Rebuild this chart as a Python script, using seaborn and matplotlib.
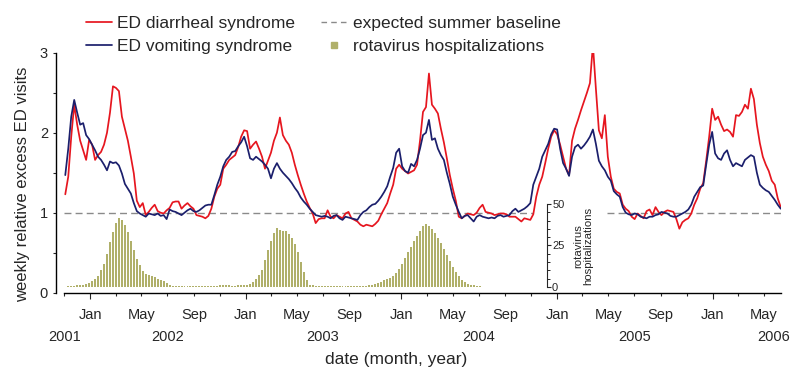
import matplotlib
matplotlib.use('Agg')
import matplotlib.pyplot as plt
import matplotlib.dates as mdates
from matplotlib.lines import Line2D
from matplotlib.ticker import FixedLocator, FuncFormatter
import seaborn as sns
import pandas as pd

# weekly series, first week ending 2001-11-03
start_week = '2001-11-03'

# ED diarrheal syndrome, relative excess visits
diarrheal = [
    1.23, 1.45, 1.95, 2.35, 2.10, 1.90, 1.78, 1.66, 1.91, 1.85,
    1.66, 1.72, 1.76, 1.85, 2.00, 2.25, 2.58, 2.56, 2.52, 2.20,
    2.05, 1.90, 1.70, 1.49, 1.15, 1.07, 1.12, 0.97, 1.01, 1.06,
    1.10, 1.02, 1.00, 0.99, 1.03, 1.06, 1.13, 1.14, 1.14, 1.05,
    1.09, 1.12, 1.08, 1.05, 0.97, 0.96, 0.95, 0.93, 0.96, 1.05,
    1.20, 1.30, 1.35, 1.55, 1.60, 1.66, 1.69, 1.72, 1.82, 1.95,
    2.03, 2.02, 1.80, 1.85, 1.89, 1.80, 1.70, 1.55, 1.65, 1.75,
    1.90, 2.00, 2.19, 1.97, 1.90, 1.85, 1.75, 1.60, 1.47, 1.35,
    1.24, 1.14, 1.06, 0.99, 0.87, 0.92, 0.93, 0.93, 1.03, 0.95,
    0.93, 0.97, 0.95, 0.93, 0.99, 1.01, 0.93, 0.91, 0.89, 0.85,
    0.83, 0.85, 0.84, 0.83, 0.86, 0.90, 0.98, 1.05, 1.12, 1.24,
    1.35, 1.55, 1.60, 1.55, 1.52, 1.49, 1.51, 1.53, 1.60, 1.90,
    2.26, 2.32, 2.74, 2.35, 2.30, 2.24, 2.05, 1.88, 1.68, 1.47,
    1.30, 1.15, 0.95, 0.93, 0.96, 0.99, 0.98, 0.97, 1.00, 1.06,
    1.10, 1.01, 1.00, 0.99, 0.97, 0.98, 0.99, 0.99, 0.98, 0.95,
    0.95, 0.95, 0.92, 0.89, 0.93, 0.92, 0.91, 0.98, 1.20, 1.35,
    1.45, 1.62, 1.80, 1.95, 2.03, 1.98, 1.85, 1.70, 1.55, 1.47,
    1.90, 2.05, 2.16, 2.28, 2.39, 2.50, 2.62, 3.10, 2.55, 2.03,
    1.93, 2.22, 1.70, 1.45, 1.30, 1.26, 1.24, 1.10, 1.05, 1.02,
    0.95, 0.92, 0.99, 0.96, 0.93, 1.02, 1.04, 0.97, 1.07, 1.01,
    0.97, 1.01, 1.03, 1.02, 1.01, 0.92, 0.80, 0.88, 0.91, 0.93,
    0.99, 1.10, 1.18, 1.30, 1.37, 1.65, 1.95, 2.30, 2.16, 2.20,
    2.10, 2.02, 2.04, 2.01, 1.95, 2.22, 2.21, 2.26, 2.35, 2.30,
    2.55, 2.42, 2.10, 1.87, 1.70, 1.60, 1.52, 1.40, 1.35, 1.18,
    1.07,
]

# ED vomiting syndrome, relative excess visits
vomiting = [
    1.47, 1.80, 2.20, 2.41, 2.25, 2.10, 2.12, 1.97, 1.92, 1.85,
    1.78, 1.70, 1.66, 1.60, 1.53, 1.64, 1.62, 1.63, 1.59, 1.49,
    1.36, 1.30, 1.24, 1.12, 1.02, 0.99, 0.97, 0.95, 0.99, 0.98,
    0.97, 0.99, 0.96, 0.97, 0.92, 1.04, 1.02, 1.01, 0.99, 0.97,
    1.00, 1.03, 1.05, 1.02, 1.01, 1.03, 1.06, 1.09, 1.10, 1.10,
    1.22, 1.35, 1.45, 1.58, 1.66, 1.70, 1.76, 1.77, 1.83, 1.88,
    1.95, 1.83, 1.68, 1.66, 1.70, 1.67, 1.64, 1.60, 1.55, 1.43,
    1.55, 1.62, 1.55, 1.50, 1.46, 1.42, 1.37, 1.31, 1.26, 1.19,
    1.14, 1.10, 1.05, 1.01, 0.97, 0.96, 0.95, 0.96, 0.95, 0.93,
    0.96, 0.97, 0.93, 0.91, 0.95, 0.94, 0.93, 0.92, 0.91, 0.97,
    1.01, 1.03, 1.07, 1.10, 1.11, 1.15, 1.20, 1.26, 1.33, 1.45,
    1.56, 1.75, 1.80, 1.58, 1.52, 1.50, 1.61, 1.58, 1.66, 1.80,
    1.97, 2.00, 2.16, 1.91, 1.93, 1.80, 1.72, 1.66, 1.50, 1.36,
    1.20, 1.10, 1.01, 0.93, 0.96, 0.97, 0.93, 0.89, 0.95, 0.97,
    0.95, 0.94, 0.93, 0.94, 0.93, 0.96, 0.97, 0.95, 0.96, 0.97,
    1.02, 1.05, 1.01, 1.03, 1.05, 1.08, 1.12, 1.35, 1.45, 1.55,
    1.70, 1.78, 1.86, 1.98, 2.05, 2.04, 1.80, 1.62, 1.55, 1.46,
    1.70, 1.82, 1.85, 1.80, 1.84, 1.89, 1.95, 2.04, 1.86, 1.65,
    1.58, 1.53, 1.45, 1.40, 1.27, 1.23, 1.20, 1.07, 1.00, 0.98,
    0.97, 0.99, 0.98, 0.95, 0.94, 0.93, 0.95, 0.95, 0.97, 0.98,
    1.01, 1.00, 0.99, 0.96, 0.95, 0.95, 0.97, 0.99, 1.01, 1.04,
    1.10, 1.20, 1.26, 1.32, 1.34, 1.60, 1.85, 2.01, 1.74, 1.68,
    1.66, 1.74, 1.78, 1.66, 1.58, 1.62, 1.60, 1.58, 1.66, 1.69,
    1.72, 1.70, 1.50, 1.35, 1.31, 1.28, 1.26, 1.21, 1.16, 1.10,
    1.05,
]

# weekly rotavirus hospitalizations (first three seasons only)
rotavirus = [
    0.0, 0.8, 0.8, 0.9, 1.0, 1.2, 1.5, 2.0, 2.5, 3.5,
    5.0, 6.5, 10.0, 14.0, 20.0, 27.0, 33.0, 38.5, 41.5, 40.5,
    37.5, 33.0, 28.0, 22.0, 17.0, 13.0, 9.5, 8.0, 7.2, 6.8,
    6.0, 5.0, 4.2, 3.5, 2.5, 1.5, 0.8, 0.6, 0.5, 0.5,
    0.4, 0.4, 0.4, 0.4, 0.4, 0.8, 0.8, 0.8, 0.8, 0.9,
    0.9, 0.9, 1.0, 1.0, 1.0, 1.0, 0.8, 0.9, 1.0, 1.0,
    1.2, 1.5, 2.0, 3.0, 5.0, 7.0, 10.0, 16.0, 22.0, 28.0,
    32.5, 35.5, 34.5, 34.0, 33.5, 32.0, 29.5, 26.0, 21.0, 15.0,
    9.0, 4.0, 1.5, 1.0, 0.8, 0.8, 0.8, 0.8, 0.8, 0.8,
    0.8, 0.8, 0.8, 0.8, 0.8, 0.8, 0.5, 0.5, 0.5, 0.5,
    0.5, 0.5, 1.2, 1.5, 2.0, 2.5, 3.0, 4.0, 5.0, 5.5,
    6.5, 8.5, 11.0, 14.0, 17.5, 21.0, 24.0, 27.5, 30.5, 33.5,
    36.5, 38.0, 37.0, 35.0, 32.5, 29.5, 26.5, 23.0, 19.5, 15.5,
    12.0, 9.0, 6.5, 4.5, 3.0, 2.0, 1.5, 1.0, 0.8, 0.6,
]

year_labels = ['2001', '2002', '2003', '2004', '2005', '2006']
year_dates = ['2001-11-01', '2002-07-01', '2003-07-01', '2004-07-01', '2005-07-01', '2006-05-24']

red = '#e6161f'
navy = '#1b1f6c'
olive = '#b0b06a'
grey = '#8a8a8a'

sns.set_style('ticks')
plt.rcParams['font.family'] = ['Liberation Sans', 'DejaVu Sans']

weeks = pd.date_range(start_week, periods=len(diarrheal), freq='7D')
df = pd.DataFrame({'week': weeks, 'diarrheal': diarrheal, 'vomiting': vomiting})
rota_df = pd.DataFrame({'week': weeks[:len(rotavirus)], 'count': rotavirus})

fig = plt.figure(figsize=(7.91, 3.68), dpi=100)
ax = fig.add_axes([0.0809, 0.2046, 0.9061, 0.6522])
ax2 = ax.twinx()

# rotavirus bars on their own little scale
ax2.bar(rota_df['week'], rota_df['count'], width=4.6, color=olive, linewidth=0)
ax2.set_ylim(-3.43, 141.1)
for s in ['top', 'left', 'bottom']:
    ax2.spines[s].set_visible(False)
ax2.spines['right'].set_position(('axes', 0.6735))
ax2.spines['right'].set_bounds(0, 50)
ax2.spines['right'].set_linewidth(0.8)
ax2.set_yticks([0, 25, 50])
ax2.yaxis.set_minor_locator(FixedLocator([5, 10, 15, 20, 30, 35, 40, 45]))
ax2.tick_params(axis='y', which='major', length=2.9, width=0.8, pad=1, labelsize=8)
ax2.tick_params(axis='y', which='minor', length=1.8, width=0.7)
fig.text(583 / 791, 1 - 246 / 368, 'rotavirus\nhospitalizations', rotation=90,
         ha='center', va='center', fontsize=8.2, linespacing=1.0)

# ED syndrome lines
ax.axhline(1, xmin=0, xmax=0.654, color=grey, lw=1, ls=(0, (5, 3)), zorder=1)
ax.axhline(1, xmin=0.758, xmax=1, color=grey, lw=1, ls=(0, (5, 3)), zorder=1)
sns.lineplot(data=df, x='week', y='diarrheal', ax=ax, color=red, lw=1.25, zorder=3)
sns.lineplot(data=df, x='week', y='vomiting', ax=ax, color=navy, lw=1.25, zorder=3)

ax.set_xlim(pd.Timestamp('2001-10-31'), pd.Timestamp('2006-06-10'))
ax.set_ylim(0, 3)
ax.spines['top'].set_visible(False)
ax.spines['right'].set_visible(False)
ax.spines['left'].set_position(('outward', 5.8))
for s in ['left', 'bottom']:
    ax.spines[s].set_linewidth(1.0)
    ax.spines[s].set_color('black')

ax.set_yticks([0, 1, 2, 3])
ax.yaxis.set_minor_locator(FixedLocator([0.5, 1.5, 2.5]))
ax.tick_params(axis='y', which='both', length=2.2, width=0.8, pad=3.6, labelsize=10.5)

ax.xaxis.set_major_locator(mdates.MonthLocator(bymonth=1))
ax.xaxis.set_major_formatter(mdates.DateFormatter('%b'))
ax.xaxis.set_minor_locator(mdates.MonthLocator(bymonth=[3, 5, 7, 9, 11]))


def minor_month(x, pos):
    d = mdates.num2date(x)
    return d.strftime('%b') if d.month in (5, 9) else ''


ax.xaxis.set_minor_formatter(FuncFormatter(minor_month))
ax.tick_params(axis='x', which='major', length=4.1, width=0.8, pad=6.9, labelsize=10.5)
ax.tick_params(axis='x', which='minor', length=2.3, width=0.8, pad=8.7, labelsize=10.5)

for lab, d in zip(year_labels, year_dates):
    ax.text(mdates.date2num(pd.Timestamp(d)), -0.185, lab, transform=ax.get_xaxis_transform(),
            ha='center', va='center', fontsize=10.5)

ax.set_ylabel('weekly relative excess ED visits', fontsize=12)
ax.yaxis.set_label_coords(-0.047, 0.453)
ax.set_xlabel('date (month, year)', fontsize=12.5)
ax.xaxis.set_label_coords(0.464, -0.245)

handles = [
    Line2D([], [], color=red, lw=1.25),
    Line2D([], [], color=navy, lw=1.25),
    Line2D([], [], color=grey, lw=1, ls=(0, (4, 3))),
    Line2D([], [], ls='none', marker='s', ms=5, color=olive),
]
labels = ['ED diarrheal syndrome', 'ED vomiting syndrome',
          'expected summer baseline', 'rotavirus hospitalizations']
fig.legend(handles, labels, ncol=2, loc='upper left', bbox_to_anchor=(86 / 791, 1 - 16 / 368),
           frameon=False, fontsize=12.5, handlelength=1.5, handletextpad=0.3,
           columnspacing=1.5, labelspacing=0.45, borderpad=0, borderaxespad=0)

fig.savefig('out.png', dpi=100)
